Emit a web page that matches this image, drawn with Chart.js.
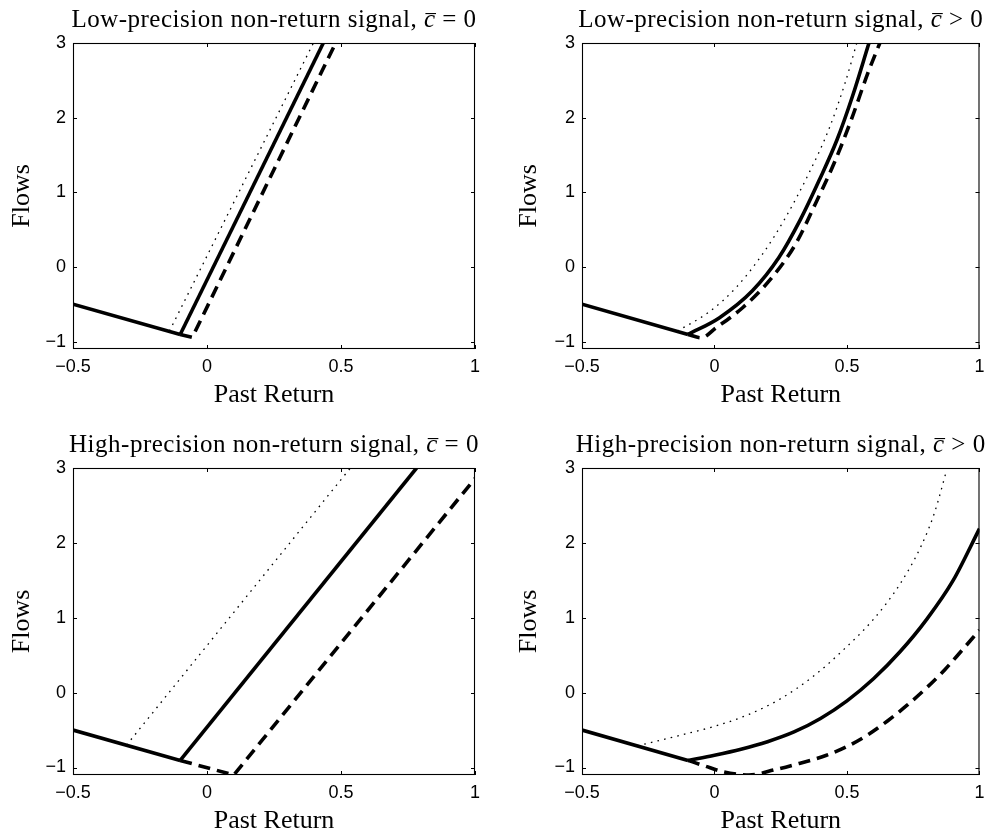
<!DOCTYPE html>
<html>
<head>
<meta charset="utf-8">
<script src="https://cdn.jsdelivr.net/npm/chart.js@4/dist/chart.umd.min.js"></script>
<style>
html,body{margin:0;padding:0;background:#fff;}
body{width:992px;height:837px;position:relative;overflow:hidden;}
canvas{position:absolute;display:block;}
</style>
</head>
<body>
<canvas id="c0" width="496" height="420" style="left:0;top:0"></canvas>
<canvas id="c1" width="496" height="420" style="left:496px;top:0"></canvas>
<canvas id="c2" width="496" height="417" style="left:0;top:420px"></canvas>
<canvas id="c3" width="496" height="417" style="left:496px;top:420px"></canvas>
<script>
// ---------- tick labels / text ----------
const xTicks = [-0.5, 0, 0.5, 1];
const yTicks = [-1, 0, 1, 2, 3];
const titlePrefixes = ['Low-precision non-return signal, ', 'Low-precision non-return signal, ',
                       'High-precision non-return signal, ', 'High-precision non-return signal, '];
const titleRelations = ['= 0', '> 0', '= 0', '> 0'];
const xLabel = 'Past Return';
const yLabel = 'Flows';

// ---------- shared low-return branch (all three lines coincide here) ----------
const branchX = [-0.5, -0.1];
const branchY = [-0.5, -0.905];

// ---------- Panel 1: low precision, c = 0 ----------
const p1SolidX = [-0.1, 0.434];
const p1SolidY = [-0.905, 3.0];
const p1DashX  = [-0.1, -0.055, 0.48];
const p1DashY  = [-0.905, -0.945, 3.0];
const p1DotX   = [-0.14, 0.397];
const p1DotY   = [-0.86, 3.0];

// ---------- Panel 2: low precision, c > 0 ----------
const p2SolidX = [-0.1, 0.019, 0.143, 0.243, 0.325, 0.395, 0.462, 0.521, 0.583];
const p2SolidY = [-0.905, -0.68, -0.32, 0.125, 0.64, 1.16, 1.70, 2.29, 3.0];
const p2DashX  = [-0.1, -0.05, 0.006, 0.106, 0.206, 0.305, 0.38, 0.455, 0.517, 0.579, 0.624];
const p2DashY  = [-0.905, -0.95, -0.815, -0.547, -0.188, 0.30, 0.84, 1.42, 1.98, 2.60, 3.0];
const p2DotX   = [-0.14, -0.019, 0.081, 0.181, 0.268, 0.355, 0.43, 0.492, 0.537];
const p2DotY   = [-0.86, -0.60, -0.278, 0.17, 0.66, 1.246, 1.83, 2.456, 3.0];

// ---------- Panel 3: high precision, c = 0 ----------
const p3SolidX = [-0.1, 0.782];
const p3SolidY = [-0.905, 3.0];
const p3DashX  = [-0.1, 0.1, 1.0];
const p3DashY  = [-0.905, -1.1, 2.86];
const p3DotX   = [-0.3, 0.535];
const p3DotY   = [-0.7, 3.0];

// ---------- Panel 4: high precision, c > 0 ----------
const p4SolidX = [-0.1, 0.0, 0.1, 0.2, 0.3, 0.4, 0.5, 0.6, 0.7, 0.8, 0.9, 1.0];
const p4SolidY = [-0.905, -0.835, -0.755, -0.655, -0.525, -0.345, -0.11, 0.185, 0.545, 0.975, 1.495, 2.19];
const p4DashX  = [-0.1, -0.04, 0.035, 0.13, 0.228, 0.32, 0.42, 0.5, 0.578, 0.654, 0.728, 0.802, 0.87, 0.93, 1.0];
const p4DashY  = [-0.905, -0.975, -1.06, -1.1, -1.03, -0.945, -0.84, -0.72, -0.565, -0.375, -0.165, 0.07, 0.31, 0.55, 0.835];
const p4DotX   = [-0.29, -0.13, 0.0, 0.13, 0.25, 0.37, 0.48, 0.6, 0.7, 0.78, 0.83, 0.876];
const p4DotY   = [-0.71, -0.57, -0.45, -0.29, -0.08, 0.21, 0.55, 0.98, 1.45, 1.96, 2.4, 2.97];

const curved = [false, true, false, true];

const pts = (xs, ys) => xs.map((x, i) => ({x: x, y: ys[i]}));

const panels = [
  {solid: pts(p1SolidX, p1SolidY), dash: pts(p1DashX, p1DashY), dot: pts(p1DotX, p1DotY)},
  {solid: pts(p2SolidX, p2SolidY), dash: pts(p2DashX, p2DashY), dot: pts(p2DotX, p2DotY)},
  {solid: pts(p3SolidX, p3SolidY), dash: pts(p3DashX, p3DashY), dot: pts(p3DotX, p3DotY)},
  {solid: pts(p4SolidX, p4SolidY), dash: pts(p4DashX, p4DashY), dot: pts(p4DotX, p4DotY)}
];

// layout per panel (canvas-relative)
const layouts = [
  {yW: 73, xH: 71, top: 43, right: 21, yTitlePad: 6.5,  xTitlePad: 9},
  {yW: 86, xH: 71, top: 43, right: 9,  yTitlePad: 18,   xTitlePad: 9},
  {yW: 73, xH: 62, top: 48, right: 21, yTitlePad: 6.5,  xTitlePad: 0},
  {yW: 86, xH: 62, top: 48, right: 9,  yTitlePad: 18,   xTitlePad: 0}
];

const SERIF = '"Liberation Serif", "Times New Roman", serif';
const SANS = '"Liberation Sans", Arial, Helvetica, sans-serif';

const matlabFrame = {
  id: 'matlabFrame',
  afterDatasetsDraw(chart) {
    const {ctx, chartArea: a, scales} = chart;
    const xs = scales.x, ys = scales.y;
    ctx.save();
    ctx.strokeStyle = '#000';
    ctx.lineWidth = 1.1;
    ctx.strokeRect(a.left + 0.5, a.top + 0.5, a.right - a.left - 1, a.bottom - a.top - 1);
    const L = 4;
    ctx.lineWidth = 1;
    ctx.beginPath();
    xs.ticks.forEach(t => {
      const px = Math.round(xs.getPixelForValue(t.value)) + 0.5;
      ctx.moveTo(px, a.bottom); ctx.lineTo(px, a.bottom - L);
      ctx.moveTo(px, a.top); ctx.lineTo(px, a.top + L);
    });
    ys.ticks.forEach(t => {
      const py = Math.round(ys.getPixelForValue(t.value)) + 0.5;
      ctx.moveTo(a.left, py); ctx.lineTo(a.left + L, py);
      ctx.moveTo(a.right, py); ctx.lineTo(a.right - L, py);
    });
    ctx.stroke();
    ctx.restore();
  },
  afterDraw(chart, args, opts) {
    const {ctx, chartArea: a} = chart;
    const size = 25;
    const reg = size + 'px ' + SERIF;
    const ita = 'italic ' + reg;
    ctx.save();
    ctx.fillStyle = '#000';
    ctx.textAlign = 'left';
    ctx.textBaseline = 'alphabetic';
    try { ctx.letterSpacing = '0.5px'; } catch (e) {}
    ctx.font = reg;
    const w1 = ctx.measureText(opts.prefix).width;
    ctx.font = ita;
    const w2 = ctx.measureText('c').width;
    ctx.font = reg;
    const rest = ' ' + opts.rel;
    const w3 = ctx.measureText(rest).width;
    const x0 = (a.left + a.right) / 2 - (w1 + w2 + w3) / 2;
    const by = a.top - 16;
    ctx.font = reg;
    ctx.fillText(opts.prefix, x0, by);
    ctx.font = ita;
    ctx.fillText('c', x0 + w1, by);
    ctx.fillRect(x0 + w1 + 1.5, by - 14, w2 - 1, 1.1);
    ctx.font = reg;
    ctx.fillText(rest, x0 + w1 + w2, by);
    ctx.restore();
  }
};

panels.forEach((p, i) => {
  const L = layouts[i];
  const mode = curved[i] ? 'monotone' : 'default';
  new Chart(document.getElementById('c' + i), {
    type: 'scatter',
    data: {
      datasets: [
        {label: 'low branch', data: pts(branchX, branchY), borderColor: '#000', borderWidth: 3.6,
         showLine: true, pointRadius: 0, tension: 0, clip: 0},
        {label: 'solid', data: p.solid, borderColor: '#000', borderWidth: 3.6, showLine: true,
         pointRadius: 0, tension: 0, cubicInterpolationMode: mode, clip: 0},
        {label: 'dashed', data: p.dash, borderColor: '#000', borderWidth: 3.6, showLine: true,
         borderDash: [12, 7], pointRadius: 0, tension: 0, cubicInterpolationMode: mode, clip: 0},
        {label: 'dotted', data: p.dot, borderColor: '#000', borderWidth: 1.3, showLine: true,
         borderDash: [1.6, 5.2], pointRadius: 0, tension: 0, cubicInterpolationMode: mode, clip: 0}
      ]
    },
    options: {
      responsive: false,
      animation: false,
      events: [],
      layout: {padding: {top: L.top, right: L.right, left: 0, bottom: 0}},
      plugins: {
        legend: {display: false},
        tooltip: {enabled: false},
        title: {display: false},
        matlabFrame: {prefix: titlePrefixes[i], rel: titleRelations[i]}
      },
      scales: {
        x: {
          type: 'linear', position: 'bottom', min: -0.5, max: 1,
          afterBuildTicks: s => { s.ticks = xTicks.map(v => ({value: v})); },
          afterFit: s => { s.height = L.xH; },
          grid: {display: false, drawTicks: false},
          border: {display: false},
          ticks: {padding: 7.5, color: '#000', font: {family: SANS, size: 18},
                  maxRotation: 0, autoSkip: false,
                  callback: v => String(v).replace('-', '\u2212')},
          title: {display: true, text: xLabel, color: '#000', font: {family: SERIF, size: 26},
                  padding: {top: 0, bottom: L.xTitlePad}}
        },
        y: {
          type: 'linear', position: 'left', min: -1.1, max: 3,
          afterBuildTicks: s => { s.ticks = yTicks.map(v => ({value: v})); },
          afterFit: s => { s.width = L.yW; },
          grid: {display: false, drawTicks: false},
          border: {display: false},
          ticks: {padding: 7, color: '#000', font: {family: SANS, size: 18}, autoSkip: false,
                  callback: v => String(v).replace('-', '\u2212')},
          title: {display: true, text: yLabel, color: '#000', font: {family: SERIF, size: 26},
                  padding: {top: L.yTitlePad, bottom: 0}}
        }
      }
    },
    plugins: [matlabFrame]
  });
});
</script>
</body>
</html>
